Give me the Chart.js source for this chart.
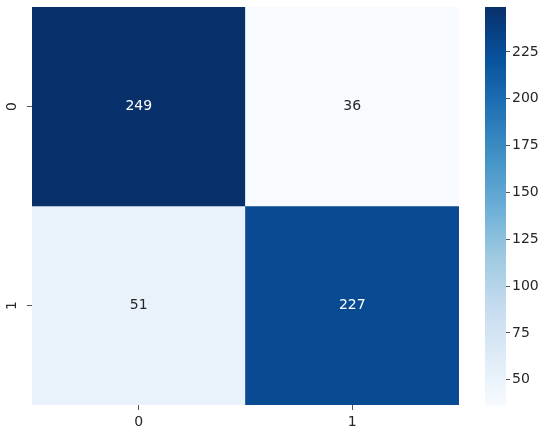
<!DOCTYPE html>
<html>
<head>
<meta charset="utf-8">
<script src="https://cdn.jsdelivr.net/npm/chart.js@4"></script>
<style>
  html, body { margin: 0; padding: 0; background: #fff; }
  #wrap { position: relative; width: 550px; height: 439px; }
  #heat { position: absolute; left: 0; top: 0; }
  #cbar { position: absolute; left: 470px; top: 0; }
</style>
</head>
<body>
<div id="wrap">
  <canvas id="heat" width="470" height="439"></canvas>
  <canvas id="cbar" width="80" height="439"></canvas>
</div>
<script>
// confusion matrix, rows = actual, cols = predicted
const rowLabels = ['0', '1'];
const colLabels = ['0', '1'];
const row0 = [249, 36];
const row1 = [51, 227];
const cbarTicks = [50, 75, 100, 125, 150, 175, 200, 225];
const vmin = 36, vmax = 249;

// matplotlib "Blues"
const blues = ['#f7fbff', '#deebf7', '#c6dbef', '#9ecae1', '#6baed6', '#4292c6', '#2171b5', '#08519c', '#08306b'];

function hexToRgb(h) {
  return [1, 3, 5].map(i => parseInt(h.slice(i, i + 2), 16));
}
function bluesAt(t) {
  t = Math.max(0, Math.min(1, t));
  const pos = t * (blues.length - 1);
  const i = Math.min(Math.floor(pos), blues.length - 2);
  const f = pos - i;
  const a = hexToRgb(blues[i]), b = hexToRgb(blues[i + 1]);
  const c = a.map((v, k) => Math.round(v + (b[k] - v) * f));
  return `rgb(${c[0]},${c[1]},${c[2]})`;
}
const colorOf = v => bluesAt((v - vmin) / (vmax - vmin));
const textOf = v => ((v - vmin) / (vmax - vmin) > 0.5 ? '#ffffff' : '#262626');

const FONT = { family: 'DejaVu Sans', size: 14 };
const rows = [row0, row1];

// drop the extra room chart.js keeps for the end labels
function noPad(s) {
  s.paddingTop = 0; s.paddingBottom = 0; s.paddingLeft = 0; s.paddingRight = 0;
}

const cellText = {
  id: 'cellText',
  afterDatasetsDraw(chart) {
    const ctx = chart.ctx;
    ctx.save();
    ctx.font = `${FONT.size}px ${FONT.family}`;
    ctx.textAlign = 'center';
    ctx.textBaseline = 'middle';
    chart.data.datasets.forEach((ds, di) => {
      chart.getDatasetMeta(di).data.forEach((el, i) => {
        const v = rows[di][i];
        ctx.fillStyle = textOf(v);
        ctx.fillText(String(v), el.x, (el.y + el.base) / 2);
      });
    });
    ctx.restore();
  }
};

new Chart(document.getElementById('heat'), {
  type: 'bar',
  data: {
    labels: colLabels,
    datasets: rows.map((r, i) => ({
      data: r.map(() => [i, i + 1]),
      backgroundColor: r.map(colorOf),
      borderWidth: 0,
      barPercentage: 1,
      categoryPercentage: 1
    }))
  },
  options: {
    responsive: false,
    animation: false,
    layout: { padding: { left: 0, right: 11, top: 7, bottom: 0 } },
    plugins: { legend: { display: false }, tooltip: { enabled: false } },
    scales: {
      x: {
        stacked: true,
        grid: { drawOnChartArea: false, offset: false, tickLength: 5, color: '#555' },
        border: { display: false },
        ticks: { font: FONT, color: '#262626', padding: 4 },
        afterFit(s) { noPad(s); s.height = 34; }
      },
      y: {
        stacked: false,
        min: 0, max: 2, reverse: true,
        grid: { drawOnChartArea: false, tickLength: 5, color: '#555' },
        border: { display: false },
        ticks: {
          font: FONT, color: '#262626', minRotation: 90, maxRotation: 90,
          crossAlign: 'center', padding: 10,
          callback: v => rowLabels[Math.floor(v)]
        },
        afterBuildTicks(s) { s.ticks = rowLabels.map((_, i) => ({ value: i + 0.5 })); },
        afterFit(s) { noPad(s); s.width = 32; }
      }
    }
  },
  plugins: [cellText]
});

new Chart(document.getElementById('cbar'), {
  type: 'bar',
  data: {
    labels: [''],
    datasets: [{
      data: [[vmin, vmax]],
      barPercentage: 1,
      categoryPercentage: 1,
      borderWidth: 0,
      backgroundColor(c) {
        const area = c.chart.chartArea;
        if (!area) return blues[4];
        const g = c.chart.ctx.createLinearGradient(0, area.bottom, 0, area.top);
        blues.forEach((b, i) => g.addColorStop(i / (blues.length - 1), b));
        return g;
      }
    }]
  },
  options: {
    responsive: false,
    animation: false,
    layout: { padding: { left: 15, right: 0, top: 7, bottom: 33 } },
    plugins: { legend: { display: false }, tooltip: { enabled: false } },
    scales: {
      x: { display: false },
      y: {
        position: 'right',
        min: vmin, max: vmax,
        grid: { drawOnChartArea: false, tickLength: 4, color: '#555' },
        border: { display: false },
        ticks: { font: FONT, color: '#262626', padding: 2 },
        afterBuildTicks(s) { s.ticks = cbarTicks.map(v => ({ value: v })); },
        afterFit(s) { noPad(s); s.width = 44; }
      }
    }
  }
});
</script>
</body>
</html>
